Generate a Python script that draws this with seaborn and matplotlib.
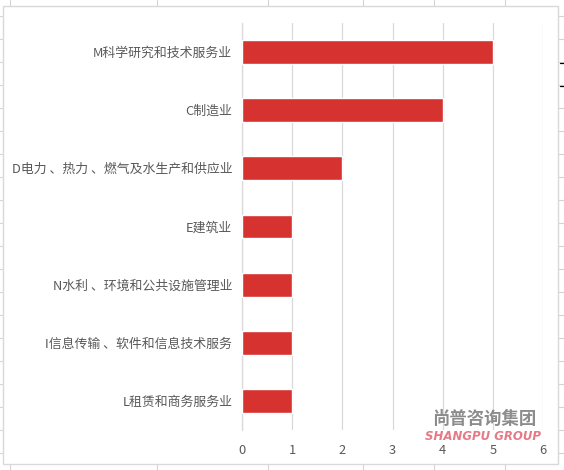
import pandas as pd
import matplotlib.pyplot as plt
import seaborn as sns

# data
industries = ['M科学研究和技术服务业', 'C制造业', 'D电力 、热力 、燃气及水生产和供应业', 'E建筑业',
              'N水利 、环境和公共设施管理业', 'I信息传输 、软件和信息技术服务', 'L租赁和商务服务业']
counts = [5, 4, 2, 1, 1, 1, 1]
x_ticks = [0, 1, 2, 3, 4, 5, 6]

df = pd.DataFrame({'industry': industries, 'count': counts})

sns.set_style('white')
plt.rcParams['font.family'] = ['Noto Sans CJK SC', 'DejaVu Sans']

fig = plt.figure(figsize=(5.64, 4.70), dpi=100)

# spreadsheet grid behind the chart
bg = fig.add_axes([0, 0, 1, 1], zorder=-2)
bg.set_xlim(0, 564)
bg.set_ylim(470, 0)
bg.axis('off')
for gx in [10, 157, 268, 363, 434, 505]:
    bg.plot([gx, gx], [0, 470], color='#D4D4D4', lw=0.8, zorder=1)
for gy in range(-7, 470, 23):
    bg.plot([0, 564], [gy, gy], color='#D4D4D4', lw=0.8, zorder=1)
bg.plot([560, 564], [63, 63], color='black', lw=0.9, zorder=1)
bg.plot([560, 564], [86, 86], color='black', lw=0.9, zorder=1)
# chart frame
bg.add_patch(plt.Rectangle((3, 6), 555, 458, facecolor='white', edgecolor='#D9D9D9',
                           lw=1.0, zorder=5))

ax = fig.add_axes([242 / 564, 1 - 430 / 470, (543 - 242) / 564, (430 - 23) / 470])
ax.patch.set_alpha(0)
sns.barplot(data=df, x='count', y='industry', orient='h', color='#D63230',
            width=0.41, saturation=1, ax=ax, zorder=3)

ax.set_xlim(0, 6)
ax.set_xticks(x_ticks)
ax.set_xlabel('')
ax.set_ylabel('')
ax.grid(axis='x', color='#D9D9D9', lw=0.9, zorder=0)
ax.set_axisbelow(True)
for s in ['top', 'right', 'bottom']:
    ax.spines[s].set_visible(False)
ax.spines['left'].set_color('#D9D9D9')
ax.spines['left'].set_linewidth(0.9)
ax.tick_params(axis='both', length=0, colors='#595959', labelsize=9.3)
ax.tick_params(axis='x', pad=10)
ax.tick_params(axis='y', pad=7)

# watermark
fig.text(484 / 564, 1 - 419 / 470, '尚普咨询集团', color='#8C8C8C', fontsize=12.5,
         ha='center', va='center', fontweight='bold')
fig.text(483 / 564, 1 - 437 / 470, 'SHANGPU GROUP', color='#E57A86', fontsize=8.5,
         ha='center', va='center', style='italic', fontweight='bold', family='DejaVu Sans')

fig.savefig('out.png', dpi=100)
